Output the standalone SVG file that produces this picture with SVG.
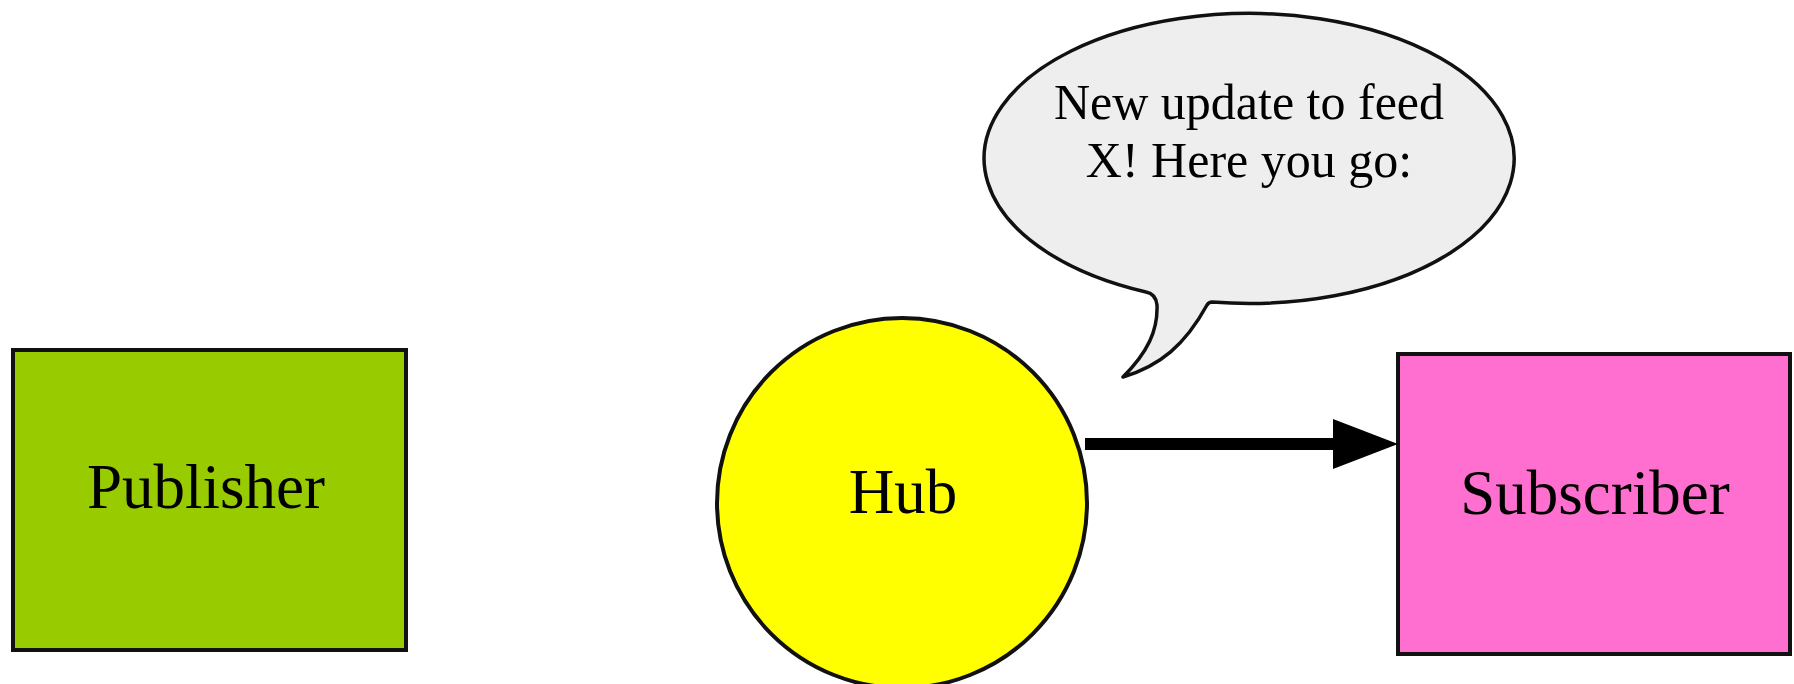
<svg xmlns="http://www.w3.org/2000/svg" width="1794" height="684" viewBox="0 0 1794 684">
  <style>
    .node { stroke: #111; stroke-width: 4; }
    .label { font-family: "Liberation Serif", "Times New Roman", serif; fill: #000; text-anchor: middle; }
    .big { font-size: 63px; }
    .speech { font-size: 50px; }
  </style>
  <defs>
    <!-- filled triangular head; its base sits on the end of the shaft -->
    <marker id="arrowhead" markerUnits="userSpaceOnUse" markerWidth="66" markerHeight="52" refX="6" refY="25" orient="auto">
      <path d="M0,0 L65,25 L0,50 Z" fill="#000"/>
    </marker>
  </defs>
  <rect width="1794" height="684" fill="#fff"/>

  <g id="publisher">
    <rect class="node" x="13" y="350" width="393" height="300" fill="#99cc00"/>
    <text class="label big" x="206" y="508">Publisher</text>
  </g>

  <g id="hub">
    <circle class="node" cx="902" cy="503" r="185" fill="#ffff00" stroke-width="3.5"/>
    <text class="label big" x="903" y="513">Hub</text>
  </g>

  <g id="subscriber">
    <rect class="node" x="1398" y="354" width="392" height="300" fill="#ff6fcf"/>
    <text class="label big" x="1595" y="514">Subscriber</text>
  </g>

  <g id="speech-bubble">
    <path d="M1212,302 A265,145 0 1 0 1146,292 Q1156,294 1157,305 C1158,330 1148,352 1123,377 C1160,366 1185,345 1207,305 Q1209,302 1212,302 Z" fill="#eeeeee" stroke="#111" stroke-width="3.5" stroke-linejoin="round"/>
    <text class="label speech" x="1249" y="119">New update to feed</text>
    <text class="label speech" x="1249" y="177">X! Here you go:</text>
  </g>

  <g id="connectors">
    <line x1="1085" y1="444" x2="1339" y2="444" stroke="#000" stroke-width="12" marker-end="url(#arrowhead)"/>
  </g>
</svg>
